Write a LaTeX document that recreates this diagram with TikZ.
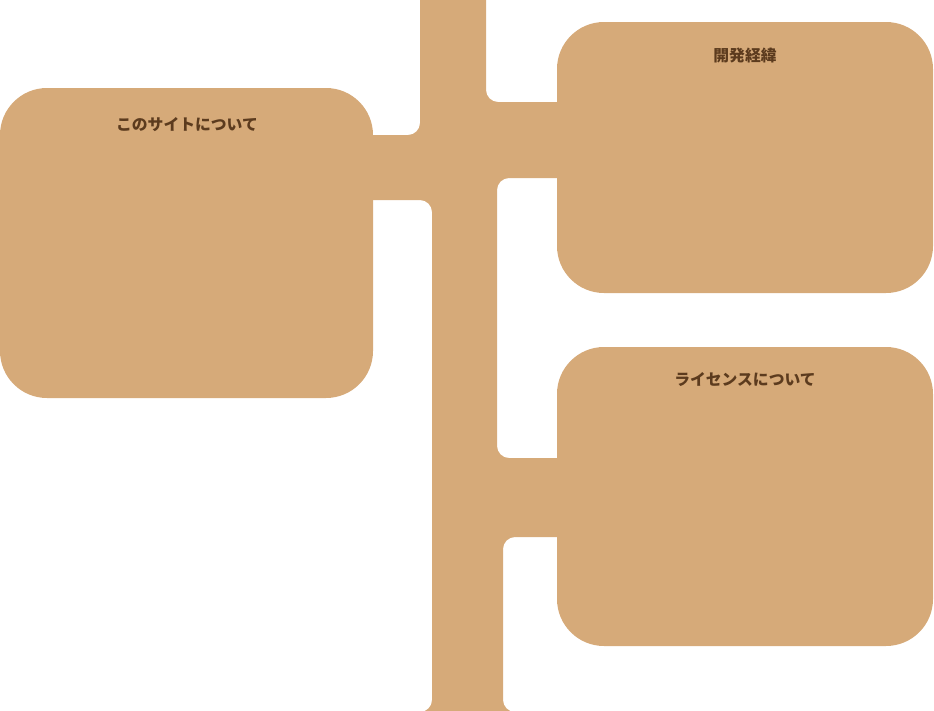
\documentclass[tikz,border=0pt]{standalone}
\usepackage{fontspec}
\newfontfamily\jp{Noto Sans CJK JP}
\definecolor{tan}{HTML}{D6AA79}
\definecolor{brownText}{HTML}{5C3B1E}
\begin{document}
\begin{tikzpicture}[x=1pt,y=-1pt,
  panel/.style={fill=tan,draw=none,rounded corners=47pt},
  title/.style={text=brownText,font=\jp\bfseries\fontsize{15.8}{16}\selectfont,inner sep=0pt,anchor=center}]
\useasboundingbox (0,0) rectangle (934,710);
% trunk and branches
\fill[tan,rounded corners=12pt]
  (420,-30) -- (486,-30) -- (486,102) -- (620,102) -- (620,178) -- (497,178)
  -- (497,458) -- (620,458) -- (620,537) -- (503,537) -- (503,712)
  -- (560,712) -- (560,760) -- (370,760) -- (370,712) -- (432,712)
  -- (432,200) -- (300,200) -- (300,135) -- (420,135) -- cycle;
% panels
\path[panel] (0,88) rectangle (373,398);
\path[panel] (557,22) rectangle (933,293);
\path[panel] (557,347) rectangle (933,646);
\coordinate (c1) at (187,125);
\coordinate (c2) at (745,56);
\coordinate (c3) at (745,380);
\node[title] (t1) at (c1) {このサイトについて};
\node[title] (t2) at (c2) {開発経緯};
\node[title] (t3) at (c3) {ライセンスについて};
\end{tikzpicture}
\end{document}
